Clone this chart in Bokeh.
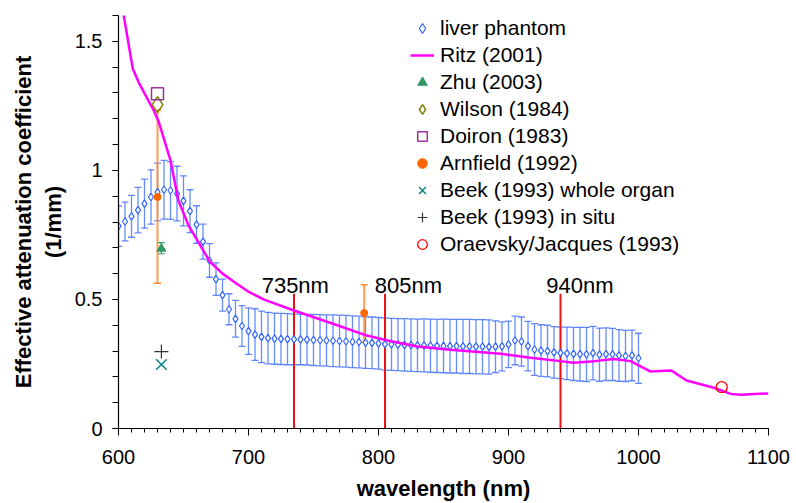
from bokeh.plotting import figure
from bokeh.models import ColumnDataSource, Whisker, TeeHead, FixedTicker, Range1d
from bokeh.embed import file_html
from bokeh.resources import INLINE
from bokeh.core.properties import value

FONT = "Liberation Sans"

# ---- data -------------------------------------------------------------
wl = list(range(600, 1001, 5))
liver = [0.784, 0.802, 0.822, 0.846, 0.871, 0.897, 0.916, 0.925, 0.922, 0.910,
         0.882, 0.842, 0.790, 0.724, 0.651, 0.579, 0.517, 0.462, 0.425, 0.397,
         0.377, 0.364, 0.355, 0.350, 0.348, 0.347, 0.346, 0.345, 0.345, 0.344,
         0.343, 0.342, 0.341, 0.340, 0.339, 0.338, 0.336, 0.335, 0.333, 0.332,
         0.330, 0.327, 0.326, 0.325, 0.324, 0.323, 0.322, 0.322, 0.321, 0.320,
         0.320, 0.319, 0.319, 0.318, 0.318, 0.317, 0.317, 0.316, 0.317, 0.318,
         0.326, 0.341, 0.337, 0.319, 0.306, 0.302, 0.300, 0.295, 0.293, 0.291,
         0.289, 0.288, 0.287, 0.292, 0.286, 0.288, 0.287, 0.283, 0.281, 0.283,
         0.272]
liver_err = [0.078, 0.075, 0.081, 0.088, 0.095, 0.105, 0.112, 0.114, 0.112, 0.106,
             0.097, 0.083, 0.073, 0.068, 0.065, 0.063, 0.062, 0.060, 0.071, 0.079,
             0.090, 0.100, 0.100, 0.100, 0.099, 0.099, 0.099, 0.098, 0.098, 0.098,
             0.099, 0.099, 0.099, 0.100, 0.100, 0.100, 0.100, 0.100, 0.100, 0.100,
             0.100, 0.101, 0.101, 0.101, 0.102, 0.102, 0.102, 0.103, 0.103, 0.103,
             0.104, 0.104, 0.104, 0.105, 0.105, 0.105, 0.105, 0.105, 0.100, 0.095,
             0.090, 0.094, 0.095, 0.096, 0.100, 0.100, 0.100, 0.100, 0.100, 0.102,
             0.103, 0.104, 0.105, 0.104, 0.103, 0.102, 0.101, 0.100, 0.099, 0.098,
             0.097]

ritz_wl = [603, 611, 616, 627, 631, 640, 646, 654, 660, 670, 680, 691, 700, 712,
           735, 765, 791, 807, 830, 855, 894, 917, 940, 950, 966, 981, 994, 1009,
           1025, 1037, 1058, 1071, 1079, 1100]
ritz_mu = [1.63, 1.394, 1.336, 1.233, 1.187, 1.039, 0.884, 0.785, 0.735, 0.648,
           0.600, 0.561, 0.530, 0.499, 0.457, 0.406, 0.360, 0.341, 0.318, 0.305,
           0.290, 0.274, 0.261, 0.255, 0.261, 0.269, 0.261, 0.221, 0.225, 0.186,
           0.158, 0.134, 0.131, 0.136]

zhu_wl, zhu_mu, zhu_lo, zhu_hi = [633], [0.697], [0.677], [0.720]
wilson_wl, wilson_mu = [630], [1.255]
doiron_wl, doiron_mu = [630], [1.297]
arn_wl = [630, 789]
arn_mu = [0.897, 0.447]
arn_lo = [0.563, 0.335]
arn_hi = [1.233, 0.557]
beek_whole_wl, beek_whole_mu = [633], [0.248]
beek_situ_wl, beek_situ_mu = [633], [0.298]
orae_wl, orae_mu = [1064], [0.160]

mark_wl = [735, 805, 940]
mark_label = ["735nm", "805nm", "940nm"]
mark_label_x = [736, 823, 955]

# ---- figure -----------------------------------------------------------
p = figure(width=796, height=503, output_backend="svg", toolbar_location=None,
           x_range=Range1d(600, 1100), y_range=Range1d(0, 1.6),
           min_border_left=118, min_border_right=28, min_border_top=15,
           min_border_bottom=75)
p.outline_line_color = None
p.grid.grid_line_color = None
p.background_fill_color = "white"
p.border_fill_color = "white"

# liver phantom
src = ColumnDataSource(dict(x=wl, y=liver,
                            lo=[v - e for v, e in zip(liver, liver_err)],
                            hi=[v + e for v, e in zip(liver, liver_err)]))
wh = Whisker(source=src, base="x", lower="lo", upper="hi",
             line_color="#3366FF", line_alpha=0.75, line_width=1.3,
             upper_head=TeeHead(size=7, line_color="#3366FF", line_alpha=0.75, line_width=1.3),
             lower_head=TeeHead(size=7, line_color="#3366FF", line_alpha=0.75, line_width=1.3))
p.add_layout(wh)

# Arnfield error bars
asrc = ColumnDataSource(dict(x=arn_wl, y=arn_mu, lo=arn_lo, hi=arn_hi))
p.add_layout(Whisker(source=asrc, base="x", lower="lo", upper="hi",
                     line_color="#FF8C33", line_width=2, line_alpha=0.85,
                     upper_head=TeeHead(size=7, line_color="#FF8C33", line_width=1.5),
                     lower_head=TeeHead(size=7, line_color="#FF8C33", line_width=1.5)))
zsrc = ColumnDataSource(dict(x=zhu_wl, y=zhu_mu, lo=zhu_lo, hi=zhu_hi))
p.add_layout(Whisker(source=zsrc, base="x", lower="lo", upper="hi",
                     line_color="#339966", line_width=1.2,
                     upper_head=TeeHead(size=7, line_color="#339966", line_width=1.2),
                     lower_head=TeeHead(size=7, line_color="#339966", line_width=1.2)))

# marker lines
p.segment(x0=mark_wl, y0=[0] * 3, x1=mark_wl, y1=[0.522] * 3,
          line_color="#EE1111", line_width=2)
p.text(x=mark_label_x, y=[0.554] * 3, text=mark_label, text_align="center",
       text_baseline="alphabetic", text_font=value(FONT), text_font_size="22px",
       text_color="black")

r_liver = p.scatter("x", "y", source=src, marker="diamond", size=7.5,
                    line_color="#3366FF", fill_color="white", line_width=1.2,
                    legend_label="liver phantom")
r_ritz = p.line(ritz_wl, ritz_mu, line_color="#FF00FF", line_width=2.5,
                legend_label="Ritz (2001)")
p.scatter(zhu_wl, zhu_mu, marker="triangle", size=9, fill_color="#339966",
          line_color="#339966", legend_label="Zhu (2003)")
p.scatter(wilson_wl, wilson_mu, marker="diamond", size=16, fill_color=None,
          line_color="#808000", line_width=1.5, legend_label="Wilson (1984)")
p.scatter(doiron_wl, doiron_mu, marker="square", size=12, fill_color=None,
          line_color="#993399", line_width=1.5, legend_label="Doiron (1983)")
p.scatter(arn_wl, arn_mu, marker="circle", size=7, fill_color="#FF6600",
          line_color="#FF6600", legend_label="Arnfield (1992)")
p.scatter(beek_whole_wl, beek_whole_mu, marker="x", size=15, line_color="#008080",
          line_width=1.4, legend_label="Beek (1993) whole organ")
p.scatter(beek_situ_wl, beek_situ_mu, marker="cross", size=14, line_color="#333333",
          line_width=1.2, legend_label="Beek (1993) in situ")
p.scatter(orae_wl, orae_mu, marker="circle", size=11, fill_color=None,
          line_color="#FF0000", line_width=1.3, legend_label="Oraevsky/Jacques (1993)")

# legend
lg = p.legend[0]
lg.location = (292, 172)
lg.padding = 0
lg.margin = 0
lg.border_line_color = None
lg.background_fill_alpha = 0
lg.label_text_font = FONT
lg.label_text_font_size = "21px"
lg.label_text_color = "black"
lg.label_height = 24
lg.glyph_height = 24
lg.glyph_width = 24
lg.spacing = 3
lg.label_standoff = 6

# axes
xa = p.xaxis[0]
xa.ticker = FixedTicker(ticks=[600, 700, 800, 900, 1000, 1100],
                        minor_ticks=list(range(600, 1101, 10)))
xa.axis_label = "wavelength (nm)"
ya = p.yaxis[0]
ya.ticker = FixedTicker(ticks=[0, 0.5, 1, 1.5],
                        minor_ticks=[i / 10 for i in range(0, 17)])
ya.major_label_overrides = {0: "0", 0.5: "0.5", 1: "1", 1.5: "1.5"}
ya.axis_label = "Effective attenuation coefficient\n(1/mm)"

for ax in (xa, ya):
    ax.axis_line_color = "black"
    ax.axis_line_width = 1.2
    ax.major_tick_line_color = "black"
    ax.minor_tick_line_color = "black"
    ax.major_tick_in = 0
    ax.minor_tick_in = 0
    ax.major_label_text_font = FONT
    ax.major_label_text_font_size = "20px"
    ax.major_label_text_color = "black"
    ax.axis_label_text_font = FONT
    ax.axis_label_text_font_size = "22px"
    ax.axis_label_text_font_style = "bold"
    ax.axis_label_text_color = "black"

xa.major_tick_out = 7
xa.minor_tick_out = 4
xa.major_label_standoff = 14
xa.axis_label_standoff = 9
ya.major_tick_out = 6
ya.minor_tick_out = 6
ya.major_label_standoff = 10
ya.axis_label_standoff = 6

open("out.html", "w").write(file_html(p, INLINE))
